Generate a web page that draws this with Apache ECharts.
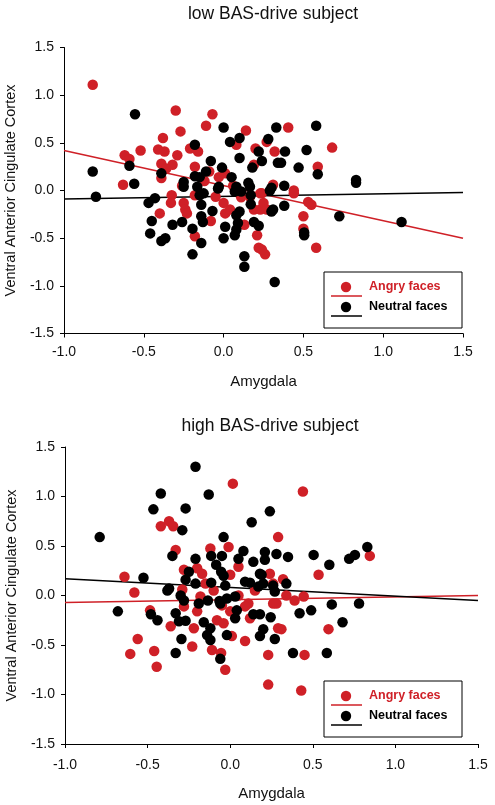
<!DOCTYPE html>
<html>
<head>
<meta charset="utf-8">
<script src="https://cdn.jsdelivr.net/npm/echarts@6/dist/echarts.min.js"></script>
<style>html,body{margin:0;padding:0;background:#fff}#c{width:495px;height:805px}</style>
</head>
<body>
<div id="c"></div>
<script>
// ---- data ----
const titles = ['low BAS-drive subject', 'high BAS-drive subject'];
const xName = 'Amygdala';
const yName = 'Ventral Anterior Cingulate Cortex';
const seriesNames = ['Angry faces', 'Neutral faces'];

const lowAngry = [[-0.82,1.11],[-0.30,0.84],[-0.07,0.80],[-0.11,0.68],[-0.27,0.62],[0.14,0.63],[-0.38,0.55],[-0.52,0.42],[-0.62,0.37],[-0.59,0.33],[-0.41,0.43],[-0.37,0.41],[-0.29,0.37],[-0.39,0.28],[-0.32,0.27],[-0.36,0.23],[-0.18,0.25],[-0.21,0.44],[-0.16,0.41],[0.08,0.48],[0.20,0.44],[0.27,0.51],[0.32,0.41],[-0.63,0.06],[-0.39,0.13],[-0.09,0.20],[-0.03,0.14],[0.01,0.18],[0.19,0.27],[0.31,0.06],[0.405,0.66],[0.68,0.45],[0.59,0.25],[0.44,0.0],[-0.40,-0.24],[-0.325,-0.05],[-0.33,-0.13],[-0.25,-0.13],[-0.24,-0.20],[-0.23,-0.24],[-0.18,-0.48],[-0.08,-0.32],[-0.18,-0.05],[0.0,-0.13],[0.01,-0.24],[0.04,-0.20],[0.13,-0.36],[0.19,-0.20],[0.23,-0.20],[0.21,-0.47],[0.22,-0.60],[0.26,-0.67],[0.25,-0.13],[0.27,-0.20],[0.165,-0.065],[0.11,-0.07],[0.44,-0.03],[0.24,-0.03],[0.53,-0.12],[0.55,-0.15],[0.50,-0.27],[0.50,-0.40],[0.58,-0.60],[0.24,-0.62],[-0.05,-0.065],[0.23,-0.03],[-0.12,0.10],[0.06,0.05],[-0.26,0.05]];
const lowNeutral = [[-0.555,0.80],[0.0,0.66],[0.04,0.51],[0.10,0.55],[0.33,0.66],[0.28,0.54],[0.22,0.41],[0.24,0.31],[0.10,0.34],[0.18,0.24],[0.34,0.29],[-0.18,0.48],[-0.08,0.31],[-0.01,0.24],[-0.11,0.20],[-0.18,0.15],[-0.15,0.14],[0.05,0.14],[-0.82,0.20],[-0.59,0.26],[-0.39,0.18],[-0.56,0.07],[-0.25,0.09],[-0.25,0.04],[-0.165,0.04],[-0.03,0.04],[0.08,0.04],[0.155,0.08],[0.165,0.04],[0.30,0.03],[0.58,0.68],[0.385,0.41],[0.52,0.425],[0.36,0.29],[0.47,0.24],[0.59,0.17],[0.83,0.11],[0.83,0.08],[0.38,0.05],[-0.80,-0.065],[-0.47,-0.13],[-0.43,-0.08],[-0.45,-0.32],[-0.46,-0.45],[-0.39,-0.53],[-0.365,-0.50],[-0.32,-0.36],[-0.26,-0.33],[-0.195,-0.40],[-0.14,-0.55],[-0.195,-0.67],[-0.14,-0.15],[-0.14,-0.27],[-0.13,-0.33],[-0.07,-0.215],[-0.15,-0.05],[-0.125,-0.03],[0.01,-0.38],[0.0,-0.50],[0.07,-0.47],[0.08,-0.41],[0.09,-0.34],[0.08,-0.26],[0.10,-0.22],[0.07,-0.01],[0.11,-0.01],[0.17,-0.05],[0.17,-0.145],[0.19,-0.33],[0.22,-0.37],[0.13,-0.69],[0.13,-0.80],[0.31,-0.20],[0.30,-0.22],[0.29,0.0],[0.32,-0.96],[-0.035,0.02],[0.38,-0.16],[0.505,-0.44],[0.505,-0.47],[0.725,-0.27],[1.115,-0.33]];
const highAngry = [[0.016,1.13],[-0.42,0.70],[-0.37,0.75],[-0.345,0.70],[0.29,0.59],[-0.33,0.46],[-0.01,0.49],[-0.12,0.475],[0.05,0.29],[-0.28,0.26],[-0.20,0.275],[-0.17,0.22],[0.0,0.21],[0.24,0.22],[-0.64,0.19],[0.44,1.05],[0.845,0.40],[0.535,0.21],[0.32,0.165],[0.26,0.12],[-0.58,0.03],[-0.485,-0.15],[-0.36,-0.31],[-0.56,-0.44],[-0.605,-0.59],[-0.46,-0.56],[-0.445,-0.72],[-0.23,-0.515],[-0.22,-0.33],[-0.28,-0.11],[-0.29,0.06],[-0.18,-0.01],[-0.20,-0.16],[-0.11,-0.55],[-0.055,-0.58],[-0.03,-0.75],[-0.08,-0.25],[-0.04,-0.28],[0.01,-0.41],[0.0,-0.16],[0.09,-0.46],[0.11,-0.08],[0.09,-0.11],[0.12,-0.23],[0.23,-0.60],[0.23,-0.90],[0.26,-0.08],[0.29,-0.33],[0.34,0.0],[0.39,-0.05],[0.445,-0.01],[0.28,-0.08],[0.595,-0.34],[0.31,-0.34],[0.45,-0.60],[0.43,-0.96],[-0.10,0.05],[0.05,0.0],[-0.15,0.12],[0.15,0.05],[-0.05,-0.10]];
const highNeutral = [[-0.21,1.30],[-0.42,1.03],[-0.13,1.02],[-0.465,0.87],[-0.27,0.88],[-0.29,0.66],[-0.79,0.59],[0.13,0.74],[0.24,0.85],[-0.04,0.59],[-0.35,0.40],[-0.21,0.37],[-0.115,0.40],[-0.05,0.40],[-0.085,0.31],[0.08,0.45],[0.05,0.37],[0.14,0.34],[0.21,0.44],[0.21,0.36],[0.28,0.42],[-0.25,0.24],[-0.055,0.24],[-0.04,0.20],[0.18,0.22],[-0.525,0.18],[-0.27,0.16],[-0.21,0.12],[-0.115,0.13],[-0.03,0.10],[0.09,0.14],[0.12,0.13],[0.20,0.12],[0.26,0.10],[-0.37,0.07],[0.35,0.39],[0.505,0.41],[0.60,0.31],[0.72,0.37],[0.755,0.41],[0.83,0.49],[0.19,0.21],[0.34,0.12],[-0.38,0.05],[-0.68,-0.16],[-0.48,-0.19],[-0.44,-0.25],[-0.33,-0.58],[-0.295,-0.44],[-0.33,-0.18],[-0.31,-0.26],[-0.27,-0.255],[-0.30,0.0],[-0.28,-0.05],[-0.19,-0.08],[-0.135,-0.05],[-0.065,-0.055],[-0.06,-0.08],[-0.02,-0.03],[0.03,-0.01],[-0.16,-0.27],[-0.12,-0.33],[-0.14,-0.40],[-0.12,-0.45],[-0.06,-0.64],[-0.02,-0.40],[0.04,-0.15],[0.03,-0.23],[0.14,-0.19],[0.18,-0.19],[0.245,-0.22],[0.20,-0.34],[0.18,-0.41],[0.27,-0.44],[0.27,0.04],[0.17,0.09],[0.42,-0.18],[0.49,-0.15],[0.615,-0.09],[0.78,-0.08],[0.68,-0.27],[0.38,-0.58],[0.585,-0.58]];

const lowAngryFit = [[-1.0,0.42],[1.5,-0.50]];
const lowNeutralFit = [[-1.0,-0.09],[1.5,-0.02]];
const highAngryFit = [[-1.0,-0.07],[1.5,0.0]];
const highNeutralFit = [[-1.0,0.17],[1.5,-0.05]];

const xTicks = {min:-1.0, max:1.5, interval:0.5};
const yTicks = {min:-1.5, max:1.5, interval:0.5};

// ---- chart ----
const RED = '#cf2027', BLACK = '#000';
const FONT = 'Liberation Sans, Arial, sans-serif';
const chart = echarts.init(document.getElementById('c'), null, {renderer:'canvas'});

function xAxis(gi, margin, gap){
  return {gridIndex:gi, type:'value', min:xTicks.min, max:xTicks.max, interval:xTicks.interval,
    name:xName, nameLocation:'middle', nameGap:gap,
    nameTextStyle:{color:'#111', fontSize:15, fontFamily:FONT},
    axisLine:{onZero:false, lineStyle:{color:'#000', width:1}},
    axisTick:{inside:false, length:4, lineStyle:{color:'#000'}},
    axisLabel:{color:'#111', fontSize:14, fontFamily:FONT, margin:margin, formatter:v=>v.toFixed(1)},
    splitLine:{show:false}};
}
function yAxis(gi){
  return {gridIndex:gi, type:'value', min:yTicks.min, max:yTicks.max, interval:yTicks.interval,
    name:yName, nameLocation:'middle', nameGap:45,
    nameTextStyle:{color:'#111', fontSize:14.5, fontFamily:FONT},
    axisLine:{onZero:false, lineStyle:{color:'#000', width:1}},
    axisTick:{inside:false, length:4, lineStyle:{color:'#000'}},
    axisLabel:{color:'#111', fontSize:14, fontFamily:FONT, margin:10, formatter:v=>v.toFixed(1)},
    splitLine:{show:false}};
}
function fit(data, color, gi){
  return {type:'line', xAxisIndex:gi, yAxisIndex:gi, data:data, symbol:'none', silent:true,
    lineStyle:{color:color, width:1.5}, z:1};
}
function pts(data, color, gi, z){
  return {type:'scatter', xAxisIndex:gi, yAxisIndex:gi, data:data, symbol:'circle', symbolSize:10.5,
    itemStyle:{color:color, opacity:1}, z:z};
}
function legendBox(x, y){
  return [
    {type:'rect', shape:{x:x, y:y, width:138, height:56}, style:{fill:'#fff', stroke:'#000', lineWidth:1}, z:10},
    {type:'circle', shape:{cx:x+22, cy:y+15, r:5.2}, style:{fill:RED}, z:11},
    {type:'line', shape:{x1:x+7, y1:y+24, x2:x+38, y2:y+24}, style:{stroke:RED, lineWidth:1.5}, z:11},
    {type:'text', x:x+45, y:y+15, style:{text:seriesNames[0], fill:RED, font:'bold 12.5px '+FONT, textVerticalAlign:'middle'}, z:11},
    {type:'circle', shape:{cx:x+22, cy:y+35, r:5.2}, style:{fill:BLACK}, z:11},
    {type:'line', shape:{x1:x+7, y1:y+44, x2:x+38, y2:y+44}, style:{stroke:BLACK, lineWidth:1.5}, z:11},
    {type:'text', x:x+45, y:y+35, style:{text:seriesNames[1], fill:BLACK, font:'bold 12.5px '+FONT, textVerticalAlign:'middle'}, z:11}
  ];
}

chart.setOption({
  animation:false,
  backgroundColor:'#fff',
  title:[
    {text:titles[0], left:268, top:0, textAlign:'center', textStyle:{fontSize:17.5, fontWeight:'normal', color:'#111', fontFamily:FONT}},
    {text:titles[1], left:265, top:412, textAlign:'center', textStyle:{fontSize:17.5, fontWeight:'normal', color:'#111', fontFamily:FONT}}
  ],
  grid:[
    {left:64, top:47.5, width:399, height:286, containLabel:false, outerBoundsMode:'none'},
    {left:65, top:447, width:413, height:297, containLabel:false, outerBoundsMode:'none'}
  ],
  xAxis:[xAxis(0, 12, 41), xAxis(1, 14, 42)],
  yAxis:[yAxis(0), yAxis(1)],
  series:[
    fit(lowAngryFit, RED, 0), fit(lowNeutralFit, BLACK, 0),
    pts(lowAngry, RED, 0, 2), pts(lowNeutral, BLACK, 0, 3),
    fit(highAngryFit, RED, 1), fit(highNeutralFit, BLACK, 1),
    pts(highAngry, RED, 1, 2), pts(highNeutral, BLACK, 1, 3)
  ],
  graphic: legendBox(324, 272).concat(legendBox(324, 681))
});
</script>
</body>
</html>
